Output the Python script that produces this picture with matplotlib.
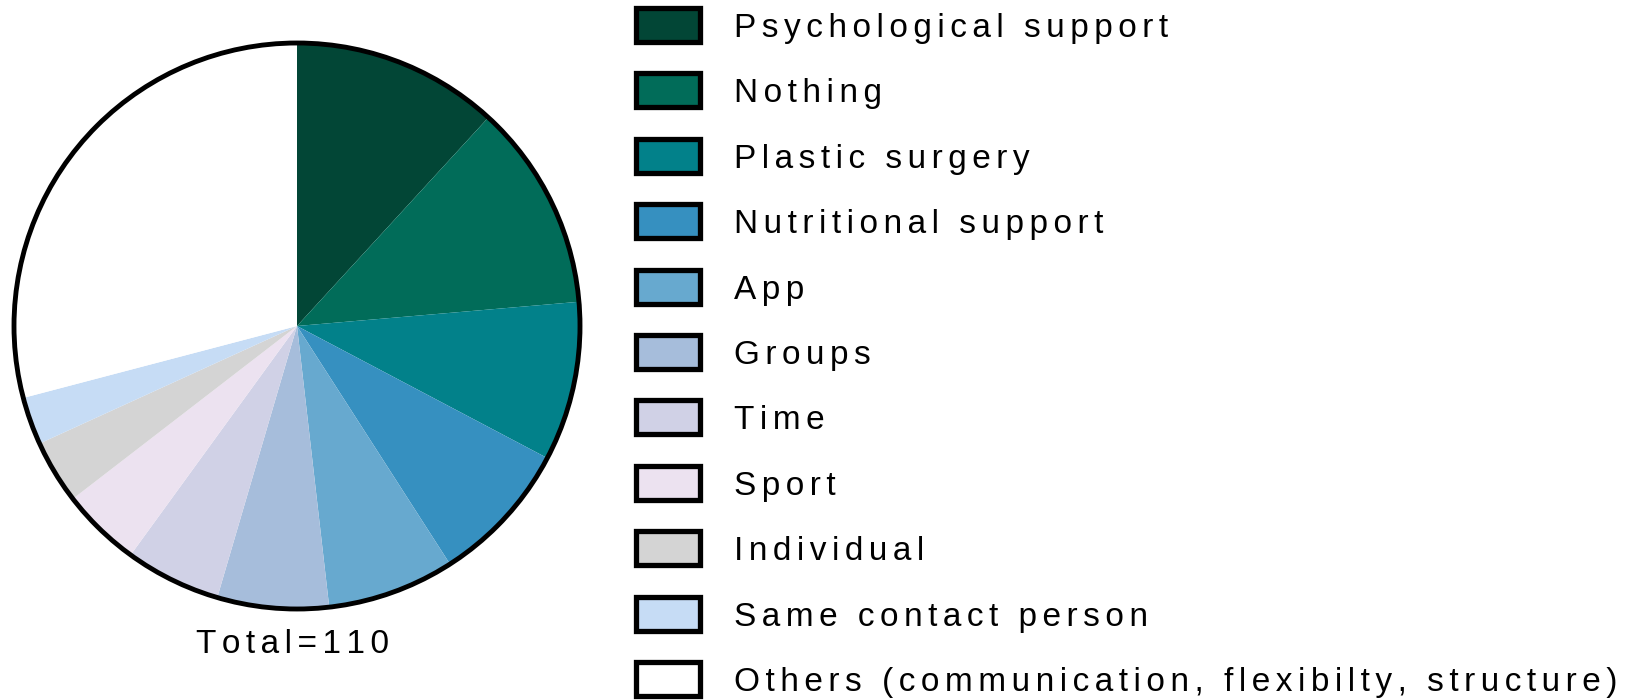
import matplotlib.pyplot as plt
from matplotlib.patches import Circle, Rectangle

plt.rcParams['font.family'] = ['Liberation Sans', 'DejaVu Sans']

categories = ['Psychological support', 'Nothing', 'Plastic surgery', 'Nutritional support',
              'App', 'Groups', 'Time', 'Sport', 'Individual', 'Same contact person',
              'Others (communication, flexibilty, structure)']
counts = [13, 13, 10, 9, 8, 7, 6, 5, 4, 3, 32]
colors = ['#024636', '#016c59', '#02818a', '#3690c0', '#67a9cf', '#a6bddb',
          '#d0d1e6', '#ece2f0', '#d4d4d4', '#c6dcf5', '#ffffff']
total_label = 'Total=%d' % sum(counts)

FS = 24


def spaced(s):
    # the original uses wide letter spacing, fake it with six-per-em spaces
    return '\u2006'.join(s)


def main():
    W, H = 1632, 700
    fig = plt.figure(figsize=(W / 100, H / 100), dpi=100)

    # pie axes, placed in pixels
    cx, cy, r = 297, 326, 283
    ax = fig.add_axes([(cx - r) / W, (H - cy - r) / H, 2 * r / W, 2 * r / H])
    ax.pie(counts, colors=colors, startangle=90, counterclock=False, radius=1,
           wedgeprops=dict(linewidth=0))
    ax.add_patch(Circle((0, 0), 1, fill=False, edgecolor='black', linewidth=3.5, clip_on=False))
    ax.set_xlim(-1, 1)
    ax.set_ylim(-1, 1)
    ax.set_aspect('equal')
    ax.axis('off')

    # legend drawn by hand in pixel coordinates
    lax = fig.add_axes([0, 0, 1, 1])
    lax.set_xlim(0, W)
    lax.set_ylim(H, 0)
    lax.axis('off')
    row0, step = 25, 65.4
    for i, (name, col) in enumerate(zip(categories, colors)):
        y = row0 + i * step
        lax.add_patch(Rectangle((636, y - 17), 64, 34, facecolor=col, edgecolor='black',
                                linewidth=3.8))
        lax.text(734, y + 12, spaced(name), fontsize=FS, va='baseline', ha='left')

    lax.text(293, 653, spaced(total_label), fontsize=FS, va='baseline', ha='center')

    fig.savefig('out.png', dpi=100)


if __name__ == '__main__':
    main()
